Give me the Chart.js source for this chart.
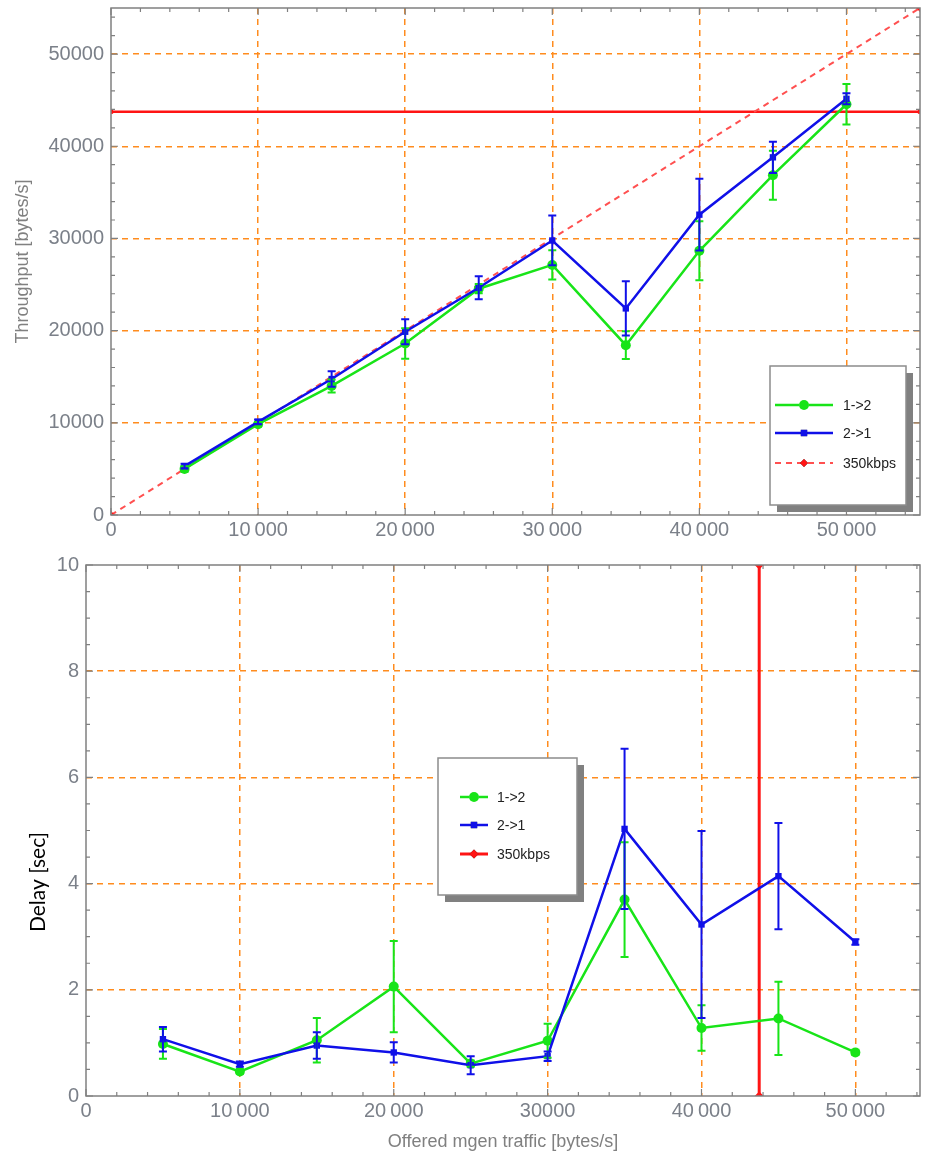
<!DOCTYPE html>
<html>
<head>
<meta charset="utf-8">
<script src="https://cdn.jsdelivr.net/npm/chart.js@4.4.1/dist/chart.umd.min.js"></script>
<style>
  body { margin: 0; background: #fff; }
  .panel { position: absolute; left: 0; }
</style>
</head>
<body>
<div class="panel" style="top:0"><canvas id="thr" width="925" height="540"></canvas></div>
<div class="panel" style="top:540px"><canvas id="delay" width="925" height="622"></canvas></div>
<script>
// offered mgen traffic (bytes/s)
const offered = [5000, 10000, 15000, 20000, 25000, 30000, 35000, 40000, 45000, 50000];

// throughput (bytes/s) and error bars
const thr12 = [5000, 9850, 14000, 18600, 24550, 27130, 18420, 28660, 36860, 44560];
const thr12Err = [300, 250, 700, 1650, 500, 1580, 1500, 3200, 2650, 2200];
const thr21 = [5300, 10100, 14750, 19880, 24650, 29780, 22410, 32580, 38800, 45150];
const thr21Err = [250, 250, 850, 1350, 1250, 2700, 2950, 3900, 1700, 600];

// delay (sec) and error bars
const delay12 = [0.98, 0.46, 1.05, 2.06, 0.61, 1.04, 3.70, 1.28, 1.46, 0.82];
const delay12Err = [0.28, 0.04, 0.42, 0.86, 0.06, 0.32, 1.08, 0.43, 0.69, 0.05];
const delay21 = [1.07, 0.60, 0.95, 0.82, 0.58, 0.75, 5.03, 3.23, 4.14, 2.90];
const delay21Err = [0.23, 0.05, 0.25, 0.19, 0.17, 0.09, 1.51, 1.76, 1.00, 0.05];

// 350 kbps reference lines
const linkRate = 43750;
const idealX = [0, 55000];
const idealY = [0, 55000];
const limitX = [0, 55000];
const limitDelay = [0, 10];

// ticks
const thrXTicks = [0, 10000, 20000, 30000, 40000, 50000];
const thrXLabels = ['0', '10\u2009000', '20\u2009000', '30\u2009000', '40\u2009000', '50\u2009000'];
const thrYTicks = [0, 10000, 20000, 30000, 40000, 50000];
const thrYLabels = ['0', '10000', '20000', '30000', '40000', '50000'];
const delayXTicks = [0, 10000, 20000, 30000, 40000, 50000];
const delayXLabels = ['0', '10\u2009000', '20\u2009000', '30000', '40\u2009000', '50\u2009000'];
const delayYTicks = [0, 2, 4, 6, 8, 10];
const delayYLabels = ['0', '2', '4', '6', '8', '10'];

const GREEN = 'rgb(24,228,24)';
const BLUE = 'rgb(16,16,232)';
const RED = 'rgb(255,20,20)';
const ORANGE = 'rgb(255,140,30)';
const GRAY = '#808080';
const TICKGRAY = '#7b8089';
const FONT = '"Liberation Sans", Arial, sans-serif';

const pts = (xs, ys) => xs.map((x, i) => ({ x: x, y: ys[i] }));

// error bars, frame with inward ticks, boxed legend
const decor = {
  id: 'decor',
  afterDatasetsDraw(chart, args, o) {
    const { ctx, chartArea: a, scales: { x, y } } = chart;
    ctx.save();
    ctx.beginPath();
    ctx.rect(a.left, a.top, a.width, a.height);
    ctx.clip();
    chart.data.datasets.forEach(ds => {
      if (!ds.errors) return;
      ctx.strokeStyle = ds.borderColor;
      ctx.lineWidth = 2;
      ds.data.forEach((p, j) => {
        const px = x.getPixelForValue(p.x);
        const lo = y.getPixelForValue(p.y - ds.errors[j]);
        const hi = y.getPixelForValue(p.y + ds.errors[j]);
        ctx.beginPath();
        ctx.moveTo(px, lo); ctx.lineTo(px, hi);
        ctx.moveTo(px - 4, lo); ctx.lineTo(px + 4, lo);
        ctx.moveTo(px - 4, hi); ctx.lineTo(px + 4, hi);
        ctx.stroke();
      });
    });
    ctx.restore();

    ctx.save();
    ctx.strokeStyle = GRAY;
    ctx.lineWidth = 1.5;
    ctx.strokeRect(a.left, a.top, a.width, a.height);
    ctx.lineWidth = 1.2;
    ctx.beginPath();
    for (let k = 0; k * o.xStep <= x.max; k++) {
      const v = k * o.xStep;
      const len = o.xMajor.includes(v) ? 7 : 4;
      const px = x.getPixelForValue(v);
      ctx.moveTo(px, a.bottom); ctx.lineTo(px, a.bottom - len);
      ctx.moveTo(px, a.top); ctx.lineTo(px, a.top + len);
    }
    for (let k = 0; k * o.yStep <= y.max + 1e-9; k++) {
      const v = Math.round(k * o.yStep * 1000) / 1000;
      const len = o.yMajor.includes(v) ? 7 : 4;
      const py = y.getPixelForValue(v);
      ctx.moveTo(a.left, py); ctx.lineTo(a.left + len, py);
      ctx.moveTo(a.right, py); ctx.lineTo(a.right - len, py);
    }
    ctx.stroke();
    ctx.restore();
  },
  afterDraw(chart, args, o) {
    const { ctx } = chart;
    const L = o.legend;
    ctx.save();
    ctx.fillStyle = GRAY;
    ctx.fillRect(L.x + 7, L.y + 7, L.w, L.h);
    ctx.fillStyle = '#fff';
    ctx.fillRect(L.x, L.y, L.w, L.h);
    ctx.strokeStyle = '#8c8c8c';
    ctx.lineWidth = 1.5;
    ctx.strokeRect(L.x, L.y, L.w, L.h);
    chart.data.datasets.filter(ds => ds.label).forEach((ds, i) => {
      const ry = L.rowY[i];
      ctx.strokeStyle = ds.borderColor;
      ctx.lineWidth = ds.borderWidth;
      ctx.setLineDash(ds.borderDash || []);
      ctx.beginPath();
      ctx.moveTo(L.lineX0, ry); ctx.lineTo(L.lineX1, ry);
      ctx.stroke();
      ctx.setLineDash([]);
      Chart.helpers.drawPoint(ctx, {
        pointStyle: ds.pointStyle, radius: ds.pointRadius, rotation: 0, borderWidth: 0
      }, (L.lineX0 + L.lineX1) / 2, ry);
      ctx.fillStyle = ds.pointBackgroundColor;
      ctx.fill();
      ctx.fillStyle = '#222';
      ctx.font = '14px ' + FONT;
      ctx.textBaseline = 'middle';
      ctx.fillText(ds.label, L.textX, ry + 1);
    });
    if (o.yTitle) {
      const t = o.yTitle;
      ctx.translate(t.x, t.y);
      ctx.rotate(-Math.PI / 2);
      ctx.fillStyle = t.color;
      ctx.font = t.font;
      ctx.textAlign = 'center';
      ctx.textBaseline = 'middle';
      ctx.fillText(t.text, 0, 0);
    }
    ctx.restore();
  }
};

function axis(ticks, labels, min, max, size, horizontal, title) {
  return {
    type: 'linear',
    min: min,
    max: max,
    afterBuildTicks: s => { s.ticks = ticks.map(v => ({ value: v })); },
    afterFit: s => {
      if (horizontal) s.height = size; else s.width = size;
      s.paddingTop = 0; s.paddingBottom = 0; s.paddingLeft = 0; s.paddingRight = 0;
    },
    grid: {
      drawTicks: false,
      lineWidth: 1.5,
      color: c => (c.tick && (c.tick.value === min || c.tick.value === max)) ? 'rgba(0,0,0,0)' : ORANGE
    },
    border: { display: false, dash: [6, 5] },
    ticks: {
      padding: horizontal ? 3 : 7,
      color: TICKGRAY,
      font: { family: FONT, size: 20 },
      maxRotation: 0,
      autoSkip: false,
      callback: v => labels[ticks.indexOf(v)]
    },
    title: title
  };
}

new Chart(document.getElementById('thr'), {
  type: 'line',
  data: {
    datasets: [
      { label: '1->2', data: pts(offered, thr12), errors: thr12Err, borderColor: GREEN, backgroundColor: GREEN,
        pointBackgroundColor: GREEN, pointBorderWidth: 0, borderWidth: 2.5, pointStyle: 'circle', pointRadius: 5, order: 1 },
      { label: '2->1', data: pts(offered, thr21), errors: thr21Err, borderColor: BLUE, backgroundColor: BLUE,
        pointBackgroundColor: BLUE, pointBorderWidth: 0, borderWidth: 2.5, pointStyle: 'rect', pointRadius: 4.5, order: 0 },
      { label: '350kbps', data: pts(idealX, idealY), borderColor: 'rgb(255,80,80)', backgroundColor: RED,
        pointBackgroundColor: RED, pointBorderWidth: 0, borderWidth: 2, borderDash: [6, 5], pointStyle: 'rectRot', pointRadius: 4, order: 2 },
      { data: pts(limitX, [linkRate, linkRate]), borderColor: RED, pointBackgroundColor: RED, pointBorderWidth: 0,
        borderWidth: 2.5, pointStyle: 'rect', pointRadius: 3, order: 3 }
    ]
  },
  options: {
    responsive: false,
    animation: false,
    layout: { padding: { top: 8, right: 3, left: 0, bottom: 0 } },
    plugins: {
      legend: { display: false },
      tooltip: { enabled: false },
      decor: {
        xStep: 2000, yStep: 2000, xMajor: thrXTicks, yMajor: thrYTicks,
        legend: { x: 770, y: 366, w: 136, h: 139, rowY: [405, 433, 463], lineX0: 775, lineX1: 833, textX: 843 }
      }
    },
    scales: {
      x: axis(thrXTicks, thrXLabels, 0, 55000, 25, true, { display: false }),
      y: axis(thrYTicks, thrYLabels, 0, 55000, 111, false, {
        display: true, text: 'Throughput [bytes/s]', color: GRAY,
        font: { family: FONT, size: 18 }, padding: { top: 12, bottom: 0 }
      })
    }
  },
  plugins: [decor]
});

new Chart(document.getElementById('delay'), {
  type: 'line',
  data: {
    datasets: [
      { label: '1->2', data: pts(offered, delay12), errors: delay12Err, borderColor: GREEN, backgroundColor: GREEN,
        pointBackgroundColor: GREEN, pointBorderWidth: 0, borderWidth: 2.5, pointStyle: 'circle', pointRadius: 5, order: 1 },
      { label: '2->1', data: pts(offered, delay21), errors: delay21Err, borderColor: BLUE, backgroundColor: BLUE,
        pointBackgroundColor: BLUE, pointBorderWidth: 0, borderWidth: 2.5, pointStyle: 'rect', pointRadius: 4.5, order: 0 },
      { label: '350kbps', data: pts([linkRate, linkRate], limitDelay), borderColor: RED, backgroundColor: RED,
        pointBackgroundColor: RED, pointBorderWidth: 0, borderWidth: 3, pointStyle: 'rectRot', pointRadius: 4.5, order: 2 }
    ]
  },
  options: {
    responsive: false,
    animation: false,
    layout: { padding: { top: 25, right: 3, left: 0, bottom: 0 } },
    plugins: {
      legend: { display: false },
      tooltip: { enabled: false },
      decor: {
        xStep: 2000, yStep: 0.5, xMajor: delayXTicks, yMajor: delayYTicks,
        legend: { x: 438, y: 218, w: 139, h: 137, rowY: [257, 285, 314], lineX0: 460, lineX1: 488, textX: 497 },
        yTitle: { text: 'Delay [sec]', x: 38, y: 342, color: '#000', font: '21px Lato, "Open Sans", sans-serif' }
      }
    },
    scales: {
      x: axis(delayXTicks, delayXLabels, 0, 54200, 66, true, {
        display: true, text: 'Offered mgen traffic [bytes/s]', color: GRAY,
        font: { family: FONT, size: 18 }, padding: { top: 9, bottom: 9 }
      }),
      y: axis(delayYTicks, delayYLabels, 0, 10, 86, false, { display: false })
    }
  },
  plugins: [decor]
});
</script>
</body>
</html>
